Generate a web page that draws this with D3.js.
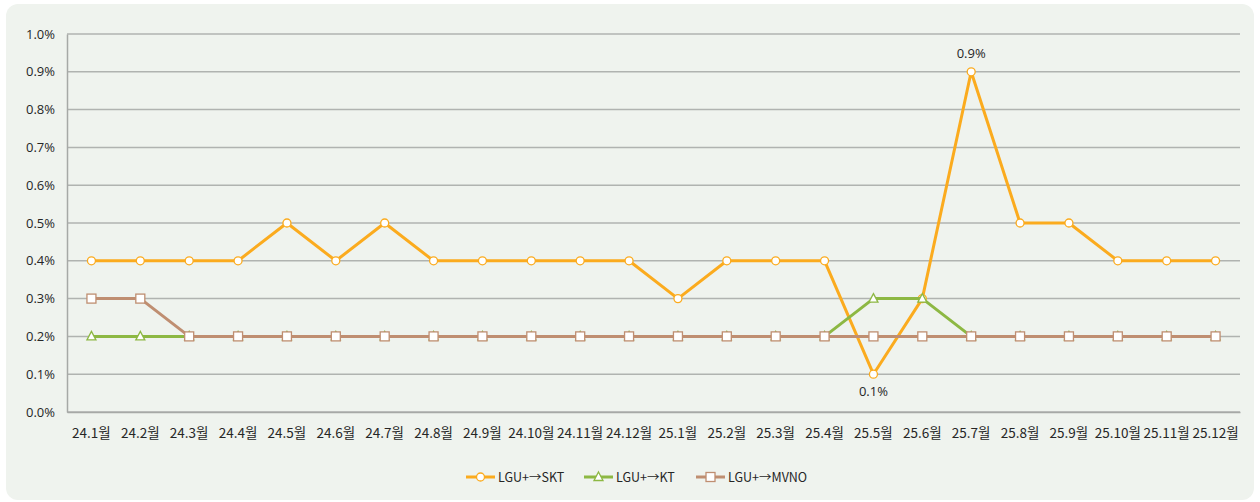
<!DOCTYPE html>
<html>
<head>
<meta charset="utf-8">
<script src="https://cdn.jsdelivr.net/npm/d3@7"></script>
<style>
    body { margin: 0; background: #ffffff; }
    svg text { font-family: "Noto Sans CJK KR", "Noto Sans", sans-serif; fill: #262626; }
</style>
</head>
<body>
<script>
// Months on the x axis
var months = ["24.1월", "24.2월", "24.3월", "24.4월", "24.5월", "24.6월",
    "24.7월", "24.8월", "24.9월", "24.10월", "24.11월", "24.12월",
    "25.1월", "25.2월", "25.3월", "25.4월", "25.5월", "25.6월",
    "25.7월", "25.8월", "25.9월", "25.10월", "25.11월", "25.12월"];

// Share values in percent
var skt = [0.4, 0.4, 0.4, 0.4, 0.5, 0.4, 0.5, 0.4, 0.4, 0.4, 0.4, 0.4,
    0.3, 0.4, 0.4, 0.4, 0.1, 0.3, 0.9, 0.5, 0.5, 0.4, 0.4, 0.4];
var kt = [0.2, 0.2, 0.2, 0.2, 0.2, 0.2, 0.2, 0.2, 0.2, 0.2, 0.2, 0.2,
    0.2, 0.2, 0.2, 0.2, 0.3, 0.3, 0.2, 0.2, 0.2, 0.2, 0.2, 0.2];
var mvno = [0.3, 0.3, 0.2, 0.2, 0.2, 0.2, 0.2, 0.2, 0.2, 0.2, 0.2, 0.2,
    0.2, 0.2, 0.2, 0.2, 0.2, 0.2, 0.2, 0.2, 0.2, 0.2, 0.2, 0.2];

var yTicks = [0, 0.1, 0.2, 0.3, 0.4, 0.5, 0.6, 0.7, 0.8, 0.9, 1.0];

// Only these points carry a data label
var labelled = [{month: "25.5월", value: 0.1, pos: "below"},
    {month: "25.7월", value: 0.9, pos: "above"}];

var series = [
    {name: "LGU+→SKT", values: skt, color: "#fbab1e", marker: "circle"},
    {name: "LGU+→KT", values: kt, color: "#8db843", marker: "triangle"},
    {name: "LGU+→MVNO", values: mvno, color: "#bf8e71", marker: "square"}
];

var W = 1260, H = 502;
var margin = {top: 34, right: 20, bottom: 90, left: 67},
    width = 1240 - margin.left,
    height = 412 - margin.top;

var root = d3.select("body").append("svg")
    .attr("width", W)
    .attr("height", H);

// Light panel behind the chart
root.append("rect")
    .attr("x", 6).attr("y", 4)
    .attr("width", 1248).attr("height", 496)
    .attr("rx", 12)
    .attr("fill", "#eff3ee");

var svg = root.append("g")
    .attr("transform", "translate(" + margin.left + "," + margin.top + ")");

var xScale = d3.scaleBand().domain(months).range([0, width]);
var yScale = d3.scaleLinear().domain([0, 1]).range([height, 0]);

function cx(i) { return xScale(months[i]) + xScale.bandwidth() / 2; }

// Gridlines
svg.append("g")
    .selectAll("line")
    .data(yTicks)
    .enter()
    .append("line")
    .attr("x1", 0).attr("x2", width)
    .attr("y1", function(d) { return yScale(d); })
    .attr("y2", function(d) { return yScale(d); })
    .attr("stroke", "#b0b3b0")
    .attr("stroke-width", 1.5);

// Y axis
var yAxis = d3.axisLeft(yScale).tickValues(yTicks).tickSize(0)
    .tickPadding(12)
    .tickFormat(function(d) { return d.toFixed(1) + "%"; });
var gy = svg.append("g").call(yAxis);
gy.select(".domain").attr("stroke", "#a6a9a6").attr("stroke-width", 1.5);
gy.selectAll("text").attr("font-size", "13px")
    .style("font-family", "'Open Sans', 'Noto Sans', sans-serif");

// X axis
var xAxis = d3.axisBottom(xScale).tickSize(0).tickPadding(16);
var gx = svg.append("g")
    .attr("transform", "translate(0," + height + ")")
    .call(xAxis);
gx.select(".domain").attr("stroke", "#a6a9a6").attr("stroke-width", 1.5);
gx.selectAll("text").attr("font-size", "13.5px");

var line = d3.line()
    .x(function(d, i) { return cx(i); })
    .y(function(d) { return yScale(d); });

function drawMarker(g, type, color, x, y) {
    if (type === "circle") {
        g.append("circle").attr("cx", x).attr("cy", y).attr("r", 4)
            .attr("fill", "#fff").attr("stroke", color).attr("stroke-width", 1.3);
    } else if (type === "square") {
        g.append("rect").attr("x", x - 4.5).attr("y", y - 4.5)
            .attr("width", 9).attr("height", 9)
            .attr("fill", "#fff").attr("stroke", color).attr("stroke-width", 1.3);
    } else {
        g.append("path")
            .attr("d", "M" + x + "," + (y - 5) + "L" + (x + 4.5) + "," + (y + 3.5) +
                "L" + (x - 4.5) + "," + (y + 3.5) + "Z")
            .attr("fill", "#fff").attr("stroke", color).attr("stroke-width", 1.3);
    }
}

series.forEach(function(s) {
    var g = svg.append("g");
    g.append("path")
        .datum(s.values)
        .attr("d", line)
        .attr("fill", "none")
        .attr("stroke", s.color)
        .attr("stroke-width", 3)
        .attr("stroke-linejoin", "round");
    s.values.forEach(function(v, i) {
        drawMarker(g, s.marker, s.color, cx(i), yScale(v));
    });
});

// Data labels for the peak and the dip
svg.selectAll("text.dlabel")
    .data(labelled)
    .enter()
    .append("text")
    .attr("class", "dlabel")
    .attr("x", function(d) { return xScale(d.month) + xScale.bandwidth() / 2; })
    .attr("y", function(d) {
        return yScale(d.value) + (d.pos === "above" ? -14 : 22);
    })
    .attr("text-anchor", "middle")
    .attr("font-size", "13px")
    .style("font-family", "'Open Sans', 'Noto Sans', sans-serif")
    .text(function(d) { return d.value.toFixed(1) + "%"; });

// Legend
var legendX = [466, 584, 696];
var legend = root.append("g");
series.forEach(function(s, i) {
    var lx = legendX[i], ly = 477;
    legend.append("line")
        .attr("x1", lx).attr("x2", lx + 29)
        .attr("y1", ly).attr("y2", ly)
        .attr("stroke", s.color).attr("stroke-width", 3);
    drawMarker(legend, s.marker, s.color, lx + 14.5, ly);
    legend.append("text")
        .attr("x", lx + 32).attr("y", ly + 4.5)
        .attr("font-size", "12.5px")
        .text(s.name);
});
</script>
</body>
</html>
